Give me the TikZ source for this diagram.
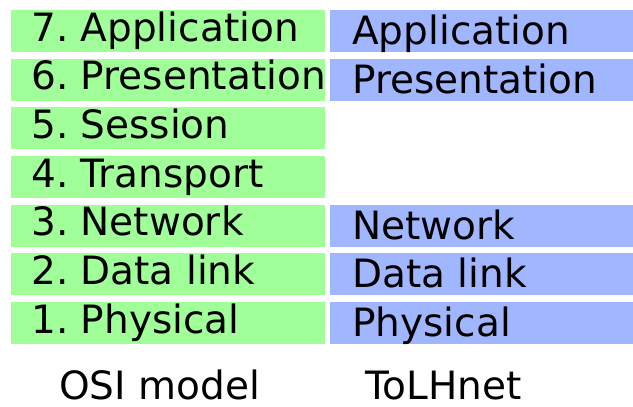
\documentclass[tikz,border=0pt]{standalone}
\usepackage{fontspec}
\setmainfont{DejaVu Sans}
\frenchspacing
\definecolor{osigreen}{RGB}{160,255,152}
\definecolor{tolblue}{RGB}{160,182,255}
\tikzset{
  layertext/.style={anchor=base west, inner sep=0pt, font=\fontsize{39}{42}\selectfont},
  captiontext/.style={anchor=base west, inner sep=0pt, text depth=0pt, font=\fontsize{39}{42}\selectfont}
}
\begin{document}
\begin{tikzpicture}[x=1pt,y=-1pt]
\useasboundingbox (0,0) rectangle (633,407);
\foreach \k/\lab in {0/7. Application,1/6. Presentation,2/5. Session,3/4. Transport,4/3. Network,5/2. Data link,6/1. Physical}{
  \pgfmathsetmacro{\top}{10+48.67*\k}
  \fill[osigreen] (11,\top) rectangle (325,\top+42);
  \node[layertext] (osi\k) at (31,\top+31) {\lab};
}
\foreach \k/\lab in {0/Application,1/Presentation,4/Network,5/Data link,6/Physical}{
  \pgfmathsetmacro{\top}{10+48.67*\k}
  \fill[tolblue] (330,\top) rectangle (633,\top+42);
  \node[layertext] (tol\k) at (352,\top+34.5) {\lab};
}
\node[captiontext] (osicap) at (59,399.5) {OSI model};
\node[captiontext] (tolcap) at (365,399.5) {ToLHnet};
\end{tikzpicture}
\end{document}
